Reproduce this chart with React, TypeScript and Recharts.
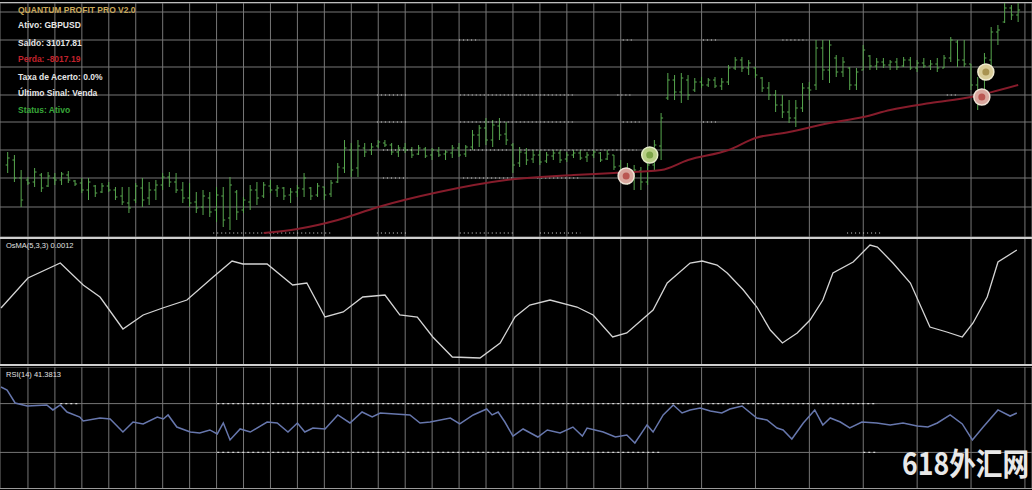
import React from 'react';
import { ComposedChart, Bar, Line, Scatter, XAxis, YAxis, CartesianGrid, ReferenceLine } from 'recharts';

// ---------- data: main price panel (bar index 1..151) ----------
const barOpen = [1.3068, 1.3073, 1.3055, 1.3053, 1.3051, 1.3058, 1.3047, 1.3055, 1.3053, 1.3058,
1.3052, 1.3050, 1.3043, 1.3047, 1.3041, 1.3047, 1.3043, 1.3037, 1.3030, 1.3033,
1.3045, 1.3035, 1.3043, 1.3048, 1.3056, 1.3051, 1.3043, 1.3035, 1.3031, 1.3026,
1.3035, 1.3023, 1.3037, 1.3015, 1.3041, 1.3023, 1.3031, 1.3043, 1.3037, 1.3047,
1.3043, 1.3045, 1.3038, 1.3041, 1.3044, 1.3045, 1.3038, 1.3046, 1.3039, 1.3051,
1.3065, 1.3083, 1.3065, 1.3085, 1.3083, 1.3087, 1.3090, 1.3088, 1.3081, 1.3085,
1.3083, 1.3079, 1.3084, 1.3078, 1.3082, 1.3079, 1.3080, 1.3085, 1.3079, 1.3086,
1.3098, 1.3105, 1.3093, 1.3107, 1.3099, 1.3088, 1.3070, 1.3080, 1.3074, 1.3078,
1.3072, 1.3077, 1.3080, 1.3074, 1.3078, 1.3080, 1.3076, 1.3078, 1.3080, 1.3074,
1.3078, 1.3067, 1.3058, 1.3053, 1.3062, 1.3051, 1.3068, 1.3087, 1.3135, 1.3153,
1.3141, 1.3153, 1.3143, 1.3151, 1.3148, 1.3153, 1.3147, 1.3151, 1.3165, 1.3173,
1.3165, 1.3165, 1.3155, 1.3145, 1.3138, 1.3128, 1.3121, 1.3115, 1.3125, 1.3145,
1.3148, 1.3185, 1.3163, 1.3175, 1.3161, 1.3165, 1.3148, 1.3163, 1.3177, 1.3167,
1.3171, 1.3168, 1.3171, 1.3167, 1.3173, 1.3165, 1.3170, 1.3167, 1.3169, 1.3165,
1.3175, 1.3191, 1.3173, 1.3169, 1.3148, 1.3135, 1.3173, 1.3201, 1.3211, 1.3225,
1.3218];

const barHigh = [1.3081, 1.3078, 1.3063, 1.3056, 1.3065, 1.3060, 1.3061, 1.3060, 1.3061, 1.3062,
1.3053, 1.3055, 1.3055, 1.3048, 1.3050, 1.3051, 1.3046, 1.3046, 1.3046, 1.3050,
1.3055, 1.3051, 1.3053, 1.3060, 1.3061, 1.3060, 1.3051, 1.3050, 1.3041, 1.3043,
1.3041, 1.3046, 1.3046, 1.3056, 1.3043, 1.3036, 1.3048, 1.3051, 1.3051, 1.3053,
1.3048, 1.3046, 1.3045, 1.3048, 1.3060, 1.3046, 1.3050, 1.3046, 1.3053, 1.3070,
1.3093, 1.3090, 1.3093, 1.3090, 1.3090, 1.3093, 1.3093, 1.3090, 1.3088, 1.3090,
1.3086, 1.3088, 1.3086, 1.3085, 1.3086, 1.3083, 1.3088, 1.3090, 1.3088, 1.3103,
1.3108, 1.3115, 1.3113, 1.3115, 1.3111, 1.3090, 1.3086, 1.3085, 1.3083, 1.3083,
1.3081, 1.3083, 1.3083, 1.3081, 1.3083, 1.3083, 1.3081, 1.3083, 1.3081, 1.3083,
1.3078, 1.3073, 1.3070, 1.3068, 1.3066, 1.3073, 1.3093, 1.3120, 1.3160, 1.3158,
1.3160, 1.3158, 1.3155, 1.3156, 1.3155, 1.3156, 1.3155, 1.3168, 1.3176, 1.3176,
1.3173, 1.3166, 1.3156, 1.3151, 1.3143, 1.3138, 1.3133, 1.3133, 1.3150, 1.3151,
1.3193, 1.3193, 1.3193, 1.3178, 1.3176, 1.3166, 1.3165, 1.3188, 1.3178, 1.3175,
1.3175, 1.3173, 1.3175, 1.3176, 1.3176, 1.3173, 1.3175, 1.3173, 1.3175, 1.3178,
1.3196, 1.3193, 1.3193, 1.3169, 1.3156, 1.3180, 1.3206, 1.3208, 1.3230, 1.3228,
1.3230];

const barLow = [1.3060, 1.3051, 1.3026, 1.3048, 1.3046, 1.3041, 1.3046, 1.3048, 1.3048, 1.3050,
1.3047, 1.3040, 1.3033, 1.3036, 1.3040, 1.3041, 1.3033, 1.3028, 1.3020, 1.3030,
1.3026, 1.3028, 1.3033, 1.3043, 1.3046, 1.3040, 1.3030, 1.3026, 1.3020, 1.3018,
1.3016, 1.3011, 1.3006, 1.3003, 1.3013, 1.3020, 1.3023, 1.3028, 1.3035, 1.3040,
1.3036, 1.3033, 1.3030, 1.3036, 1.3036, 1.3033, 1.3036, 1.3033, 1.3036, 1.3050,
1.3060, 1.3056, 1.3056, 1.3076, 1.3078, 1.3085, 1.3086, 1.3078, 1.3076, 1.3080,
1.3075, 1.3078, 1.3075, 1.3073, 1.3076, 1.3073, 1.3075, 1.3076, 1.3076, 1.3083,
1.3086, 1.3088, 1.3086, 1.3093, 1.3088, 1.3060, 1.3066, 1.3068, 1.3070, 1.3068,
1.3070, 1.3073, 1.3070, 1.3071, 1.3075, 1.3073, 1.3071, 1.3075, 1.3071, 1.3073,
1.3063, 1.3053, 1.3048, 1.3043, 1.3043, 1.3048, 1.3063, 1.3073, 1.3133, 1.3133,
1.3130, 1.3133, 1.3141, 1.3145, 1.3146, 1.3145, 1.3143, 1.3148, 1.3163, 1.3161,
1.3158, 1.3155, 1.3141, 1.3133, 1.3121, 1.3115, 1.3110, 1.3106, 1.3121, 1.3133,
1.3143, 1.3153, 1.3150, 1.3156, 1.3156, 1.3143, 1.3143, 1.3163, 1.3163, 1.3163,
1.3165, 1.3163, 1.3163, 1.3166, 1.3163, 1.3161, 1.3165, 1.3163, 1.3161, 1.3165,
1.3171, 1.3166, 1.3166, 1.3143, 1.3123, 1.3133, 1.3166, 1.3188, 1.3210, 1.3213,
1.3211];

const barClose = [1.3075, 1.3055, 1.3033, 1.3050, 1.3061, 1.3045, 1.3057, 1.3053, 1.3059, 1.3053,
1.3049, 1.3043, 1.3051, 1.3040, 1.3047, 1.3043, 1.3036, 1.3031, 1.3025, 1.3047,
1.3033, 1.3043, 1.3048, 1.3056, 1.3051, 1.3043, 1.3035, 1.3030, 1.3025, 1.3037,
1.3021, 1.3038, 1.3013, 1.3048, 1.3021, 1.3033, 1.3043, 1.3035, 1.3048, 1.3043,
1.3045, 1.3037, 1.3041, 1.3045, 1.3055, 1.3037, 1.3047, 1.3038, 1.3050, 1.3066,
1.3085, 1.3063, 1.3087, 1.3081, 1.3086, 1.3091, 1.3088, 1.3081, 1.3085, 1.3083,
1.3078, 1.3085, 1.3077, 1.3083, 1.3078, 1.3081, 1.3085, 1.3078, 1.3086, 1.3098,
1.3105, 1.3093, 1.3108, 1.3098, 1.3093, 1.3068, 1.3081, 1.3073, 1.3078, 1.3071,
1.3078, 1.3080, 1.3073, 1.3078, 1.3080, 1.3075, 1.3078, 1.3081, 1.3073, 1.3079,
1.3066, 1.3058, 1.3053, 1.3063, 1.3051, 1.3068, 1.3088, 1.3115, 1.3153, 1.3141,
1.3155, 1.3138, 1.3151, 1.3148, 1.3153, 1.3147, 1.3151, 1.3165, 1.3173, 1.3165,
1.3170, 1.3158, 1.3145, 1.3138, 1.3128, 1.3121, 1.3115, 1.3125, 1.3145, 1.3143,
1.3185, 1.3163, 1.3188, 1.3161, 1.3171, 1.3148, 1.3161, 1.3183, 1.3167, 1.3171,
1.3168, 1.3171, 1.3166, 1.3173, 1.3165, 1.3170, 1.3167, 1.3169, 1.3165, 1.3175,
1.3193, 1.3173, 1.3169, 1.3148, 1.3133, 1.3175, 1.3201, 1.3203, 1.3225, 1.3218,
1.3223];

// moving average (bar index, price)
const maT = [39, 44, 50, 56, 65, 75, 85, 91, 98, 102, 108, 112, 117, 123, 128, 132, 138, 144, 151];
const maV = [1.3000, 1.3004, 1.3013, 1.3026, 1.3041, 1.3053, 1.3058, 1.3060, 1.3063, 1.3073,
1.3083, 1.3095, 1.3101, 1.3110, 1.3116, 1.3123, 1.3130, 1.3136, 1.3148];

// trade signal markers
const signalT = [92.8, 96.3, 145.6, 146.2];
const signalV = [1.3057, 1.3078, 1.3136, 1.3161];
const signalKind = ['sell', 'buy', 'sell', 'close'];

// oscillator panel
const oscT = [0, 4.0, 8.8, 12.2, 14.7, 18.1, 21.1, 24.0, 27.6, 31.5, 34.3, 35.9, 39.5, 43.3, 45.4,
48.1, 50.8, 53.7, 57.0, 59.2, 61.8, 64.1, 67.0, 71.1, 74.1, 76.3, 78.5, 81.5, 85.5, 87.9,
90.8, 92.9, 96.8, 98.9, 102.3, 104.1, 106.3, 107.8, 110.2, 112.2, 114.2, 116.0, 118.2, 120.1,
122.0, 123.5, 126.5, 129.0, 130.1, 132.4, 135.0, 137.9, 140.4, 142.7, 144.3, 146.4, 148.0, 150.8];
const oscV = [44.8, 68.8, 80.8, 63.2, 53.6, 28, 39.2, 44.8, 51.2, 69.6, 82.4, 80, 80, 63.2, 64.8,
37.6, 41.6, 53.6, 55.2, 39.2, 37.6, 21.6, 5.6, 4.8, 16.8, 37.6, 47.2, 51.2, 45.6, 39.2,
21.6, 24.8, 43.2, 64.8, 80.8, 82.4, 79.2, 72.8, 59.2, 45.6, 27.2, 16.8, 24.8, 35.2,
51.2, 72.8, 81.6, 95.2, 93.6, 80.8, 64.8, 29.6, 25.6, 21.6, 32.8, 53.6, 81.6, 91.2];

// RSI panel
const rsiT = [0, 0.9, 2.1, 3.9, 6.8, 7.7, 8.8, 9.8, 11.7, 12.2, 14.7, 16.2, 18.1, 19.6, 21.1, 23.2,
24.1, 24.8, 26.1, 28.1, 29.5, 31.0, 32.1, 33.0, 34.0, 35.5, 37.0, 39.5, 41.0, 42.6, 44.0, 45.1,
46.3, 48.1, 50.0, 51.8, 53.6, 55.1, 56.3, 60.7, 62.2, 63.7, 66.7, 68.1, 70.1, 72.1, 72.9, 73.8,
74.8, 76.0, 77.5, 79.7, 81.1, 83.0, 84.9, 86.3, 87.0, 89.4, 91.2, 92.9, 94.1, 95.9, 96.8, 98.3,
99.8, 101.1, 102.3, 103.8, 105.3, 107.0, 108.2, 110.0, 112.2, 113.7, 115.2, 116.1, 117.4, 119.1,
120.8, 122.0, 123.1, 124.6, 126.0, 127.8, 130.0, 132.0, 133.9, 136.0, 137.6, 139.0, 140.9, 142.7,
144.2, 145.8, 148.0, 149.8, 150.8];
const rsiV = [83.6, 81.1, 70.5, 68, 68.9, 64.8, 68.9, 63.1, 59, 55.7, 58.2, 57.4, 46.7, 54.9, 53.3, 59,
57.4, 60.7, 50.8, 46.7, 45.9, 48.4, 45.1, 54.1, 40.2, 49.2, 46.7, 54.9, 54.1, 46.7, 54.1, 46.7,
50, 49.2, 60.7, 54.1, 63.1, 59, 62.3, 60.7, 54.1, 54.9, 58.2, 53.3, 60.7, 65.6, 60.7, 63.1,
54.9, 43.4, 49.2, 42.6, 48.4, 45.9, 50.8, 43.4, 50, 46.7, 42.6, 44.3, 37.7, 52.5, 46.7, 60.7,
68.9, 62.3, 64.8, 66.4, 63.9, 62.3, 65.6, 68, 58.2, 56.6, 50, 48.4, 41, 54.1,
64.8, 52.5, 58.2, 54.9, 50, 54.9, 54.1, 52.5, 54.1, 51.6, 50.8, 54.1, 60.7, 53.3,
40.2, 50.8, 64.8, 59.8, 62.3];

// grid ticks
const timeGridTicks = [4, 8, 12, 16, 20, 24, 28, 32, 36, 40, 44, 48, 52, 56, 60, 64, 68, 72, 76, 80,
84, 88, 92, 96, 100, 104, 108, 112, 116, 120, 124, 128, 132, 136, 140, 144, 148, 152];
const priceGridTicks = [1.3000, 1.3026, 1.3055, 1.3083, 1.3111, 1.3138, 1.3166, 1.3193, 1.3221];
const rsiLevels = [30, 70];

// dotted level segments [level, fromBar, toBar]
const priceDots: [number, number, number][] = [
  [1.3193, 68, 71], [1.3193, 92.3, 93.8], [1.3193, 104.2, 106.3], [1.3193, 116, 119.6],
  [1.3138, 55.8, 60.3], [1.3138, 68.1, 84.9], [1.3138, 91.5, 93.8], [1.3138, 140.4, 142],
  [1.3111, 55.8, 60.3], [1.3111, 68.1, 84.9], [1.3111, 92.3, 94.8], [1.3111, 104.2, 106.3],
  [1.3083, 56.7, 61.2], [1.3083, 69.6, 75.6], [1.3083, 77.1, 94.4],
  [1.3055, 56.7, 60.3], [1.3055, 68.6, 76], [1.3055, 79.6, 86],
  [1.3000, 31.5, 49.3], [1.3000, 55.8, 60.3], [1.3000, 68.1, 76], [1.3000, 80, 86], [1.3000, 125.6, 130.5],
];
const rsiDots: [number, number, number][] = [
  [70, 8.8, 11.7], [70, 32.1, 130], [30, 32.1, 97.8], [30, 128, 130],
];

const infoLines = [
  { text: 'QUANTUM PROFIT PRO V2.0', color: '#c9a85a' },
  { text: 'Ativo: GBPUSD', color: '#e6e6e6' },
  { text: 'Saldo: 31017.81', color: '#e6e6e6' },
  { text: 'Perda: -8017.19', color: '#c0222c' },
  { text: 'Taxa de Acerto: 0.0%', color: '#e6e6e6' },
  { text: 'Último Sinal: Venda', color: '#e6e6e6' },
  { text: 'Status: Ativo', color: '#38a83a' },
];
const infoTops = [5, 20, 38, 54, 72, 88, 105];

// ---------- derived tables ----------
const priceData = barOpen.map((o, i) => ({
  t: i + 1,
  open: o,
  high: barHigh[i],
  low: barLow[i],
  close: barClose[i],
  range: [barLow[i], barHigh[i]],
}));
const maData = maT.map((t, i) => ({ t, v: maV[i] }));
const signalData = signalT.map((t, i) => ({ t, v: signalV[i], kind: signalKind[i] }));
const oscData = oscT.map((t, i) => ({ t, v: oscV[i] }));
const rsiData = rsiT.map((t, i) => ({ t, v: rsiV[i] }));

const X_DOMAIN: [number, number] = [-0.15, 153.05];
const GRID = '#767676';
const FONT = "'Liberation Sans', Arial, sans-serif";
const M = { top: 0, right: 0, bottom: 0, left: 0 };

const OhlcBar = (props: any) => {
  const { x, y, width, height, payload } = props;
  if (x == null || y == null) return null;
  const cx = x + width / 2;
  const top = Math.min(y, y + height);
  const h = Math.abs(height);
  const span = payload.high - payload.low || 1;
  const yO = top + (h * (payload.high - payload.open)) / span;
  const yC = top + (h * (payload.high - payload.close)) / span;
  return (
    <g stroke="#57a64e" strokeWidth={1}>
      <line x1={cx} x2={cx} y1={top} y2={top + Math.max(h, 1)} />
      <line x1={cx - 2} x2={cx} y1={yO} y2={yO} />
      <line x1={cx} x2={cx + 2} y1={yC} y2={yC} />
    </g>
  );
};

const SignalDot = (props: any) => {
  const { cx, cy, payload } = props;
  if (cx == null || cy == null) return null;
  const pal: Record<string, [string, string, string]> = {
    buy: ['#b8cf86', '#e4ecc8', '#6e9a3a'],
    sell: ['#d9a79e', '#f0e2d6', '#b2433f'],
    close: ['#d9cc98', '#f0ead0', '#9c8440'],
  };
  const [fill, ring, core] = pal[payload.kind] || pal.buy;
  return (
    <g>
      <circle cx={cx} cy={cy} r={8} fill={fill} stroke={ring} strokeWidth={1.5} />
      <circle cx={cx} cy={cy} r={3.5} fill={core} opacity={0.8} />
    </g>
  );
};

const hLine = (top: number, h: number, color: string) => (
  <div style={{ position: 'absolute', left: 0, top, width: 1032, height: h, background: color }} />
);

export default function App() {
  return (
    <div style={{ position: 'absolute', left: 0, top: 0, width: 1032, height: 490, background: '#000', overflow: 'hidden', fontFamily: FONT }}>
      {/* main price panel */}
      <div style={{ position: 'absolute', left: 0, top: 3 }}>
        <ComposedChart width={1032} height={234} data={priceData} margin={M}>
          <CartesianGrid stroke={GRID} strokeWidth={1} />
          <XAxis dataKey="t" type="number" domain={X_DOMAIN} ticks={timeGridTicks} hide allowDataOverflow />
          <YAxis type="number" domain={[1.2996, 1.3230]} ticks={priceGridTicks} hide allowDataOverflow />
          {priceDots.map(([lv, a, b], i) => (
            <ReferenceLine key={'pd' + i} segment={[{ x: a, y: lv }, { x: b, y: lv }]} stroke="#d8d8d8" strokeWidth={1} strokeDasharray="1 3" ifOverflow="visible" />
          ))}
          <Bar dataKey="range" shape={<OhlcBar />} barSize={5} isAnimationActive={false} />
          <Line data={maData} dataKey="v" type="monotone" stroke="#861c2b" strokeWidth={2} dot={false} isAnimationActive={false} />
          <Scatter data={signalData} dataKey="v" shape={<SignalDot />} isAnimationActive={false} />
        </ComposedChart>
      </div>

      {/* oscillator panel */}
      <div style={{ position: 'absolute', left: 0, top: 239 }}>
        <ComposedChart width={1032} height={125} data={oscData} margin={M}>
          <CartesianGrid stroke={GRID} strokeWidth={1} horizontal={false} />
          <XAxis dataKey="t" type="number" domain={X_DOMAIN} ticks={timeGridTicks} hide allowDataOverflow />
          <YAxis type="number" domain={[0, 100]} hide allowDataOverflow />
          <Line dataKey="v" type="linear" stroke="#d4d4d4" strokeWidth={1.3} dot={false} isAnimationActive={false} />
        </ComposedChart>
      </div>

      {/* RSI panel */}
      <div style={{ position: 'absolute', left: 0, top: 367 }}>
        <ComposedChart width={1032} height={122} data={rsiData} margin={M}>
          <CartesianGrid stroke={GRID} strokeWidth={1} />
          <XAxis dataKey="t" type="number" domain={X_DOMAIN} ticks={timeGridTicks} hide allowDataOverflow />
          <YAxis type="number" domain={[0, 100]} ticks={rsiLevels} hide allowDataOverflow />
          {rsiDots.map(([lv, a, b], i) => (
            <ReferenceLine key={'rd' + i} segment={[{ x: a, y: lv }, { x: b, y: lv }]} stroke="#d8d8d8" strokeWidth={1.2} strokeDasharray="2 3" ifOverflow="visible" />
          ))}
          <Line dataKey="v" type="linear" stroke="#6777ad" strokeWidth={1.5} dot={false} isAnimationActive={false} />
        </ComposedChart>
      </div>

      {/* frame lines */}
      {hLine(2, 1, '#bdbdbd')}
      {hLine(237, 2, '#cfcfcf')}
      {hLine(364, 2, '#cfcfcf')}
      {hLine(488, 1, '#9a9a9a')}

      {/* info text */}
      {infoLines.map((l, i) => (
        <div key={i} style={{ position: 'absolute', left: 18, top: infoTops[i], fontSize: 8.5, lineHeight: '10px', fontWeight: 700, color: l.color, whiteSpace: 'nowrap' }}>
          {l.text}
        </div>
      ))}
      <div style={{ position: 'absolute', left: 6, top: 241, fontSize: 7.5, lineHeight: '9px', color: '#e0e0e0', whiteSpace: 'nowrap' }}>
        OsMA(5,3,3) 0.0012
      </div>
      <div style={{ position: 'absolute', left: 6, top: 370, fontSize: 7.5, lineHeight: '9px', color: '#e0e0e0', whiteSpace: 'nowrap' }}>
        RSI(14) 41.3813
      </div>

      {/* watermark */}
      <div style={{ position: 'absolute', left: 902, top: 446, fontSize: 31, lineHeight: '31px', fontWeight: 700, color: '#e8e8e8', whiteSpace: 'nowrap', transform: 'scaleX(0.86)', transformOrigin: 'left top', fontFamily: "'Noto Sans CJK SC', sans-serif" }}>
        618外汇网
      </div>
    </div>
  );
}
